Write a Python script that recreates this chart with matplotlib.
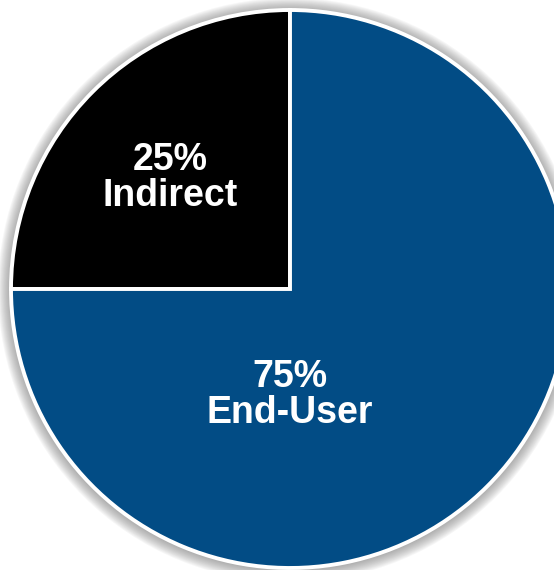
import matplotlib
matplotlib.use("Agg")
import matplotlib.pyplot as plt
from matplotlib.patches import Circle

labels = ["Indirect", "End-User"]
shares = [25, 75]
colors = ["#000000", "#024C85"]

W, H = 554, 570
fig = plt.figure(figsize=(W / 100, H / 100), dpi=100)
ax = fig.add_axes([0, 0, 1, 1])

cx, cy, R = 290, 281, 279

# soft grey halo around the pie
for i in range(13, 0, -1):
    ax.add_patch(Circle((cx, cy - 1), R + i, facecolor="#707070",
                        alpha=0.06, edgecolor="none", zorder=0))

ax.pie(shares, colors=colors, startangle=90, counterclock=True,
       center=(cx, cy), radius=R, frame=True,
       wedgeprops=dict(edgecolor="white", linewidth=2.8))
ax.set_xlim(0, W)
ax.set_ylim(0, H)
ax.set_aspect("auto")
ax.axis("off")

font = dict(family=["Liberation Sans", "DejaVu Sans"], fontsize=27,
            fontweight="bold", color="white", ha="center", va="center",
            linespacing=1.0)
ax.text(170, H - 178, f"{shares[0]}%\n{labels[0]}", **font)
ax.text(290, H - 395, f"{shares[1]}%\n{labels[1]}", **font)

fig.savefig("out.png", dpi=100)
